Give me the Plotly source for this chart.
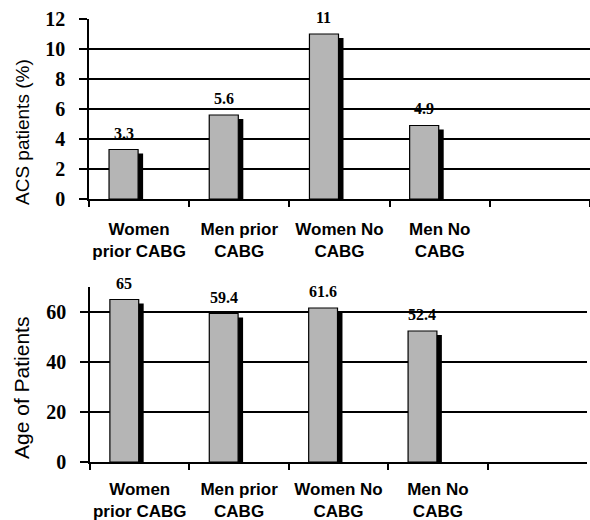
import plotly.graph_objects as go

categories = ["Women<br>prior CABG", "Men prior<br>CABG", "Women No<br>CABG", "Men No<br>CABG", " "]
acs_values = [3.3, 5.6, 11, 4.9]
age_values = [65, 59.4, 61.6, 52.4]
acs_labels = ["3.3", "5.6", "11", "4.9"]
age_labels = ["65", "59.4", "61.6", "52.4"]

W, H = 590, 520
GRAY = "#b5b5b5"
BAR_OFF, BAR_W = -0.30, 0.29
SH_DX = 0.05
SH_DROP_PX = 4

fig = go.Figure()

panels = [
    dict(vals=acs_values, labels=acs_labels, xa="x", ya="y", rng=[0, 12], dtick=2, standoff=14,
         xdom=[89 / W, 1.0], ydom=[1 - 199 / H, 1 - 19 / H]),
    dict(vals=age_values, labels=age_labels, xa="x2", ya="y2", rng=[0, 70], dtick=20, standoff=11,
         xdom=[90 / W, 587 / W], ydom=[1 - 462 / H, 1 - 287 / H]),
]

for p in panels:
    cats = categories[:len(p["vals"])]
    plot_h = (p["ydom"][1] - p["ydom"][0]) * H
    drop = SH_DROP_PX * (p["rng"][1] - p["rng"][0]) / plot_h
    fig.add_trace(go.Bar(x=cats, y=[v - drop for v in p["vals"]], xaxis=p["xa"], yaxis=p["ya"],
                         offset=BAR_OFF + SH_DX, width=BAR_W,
                         marker=dict(color="black", line=dict(width=0)),
                         showlegend=False, hoverinfo="skip"))
    fig.add_trace(go.Bar(x=cats, y=p["vals"], xaxis=p["xa"], yaxis=p["ya"],
                         offset=BAR_OFF, width=BAR_W,
                         marker=dict(color=GRAY, line=dict(color="black", width=1.2)),
                         showlegend=False))
    for i, (v, t) in enumerate(zip(p["vals"], p["labels"])):
        fig.add_annotation(x=i + BAR_OFF + BAR_W / 2, y=v, xref=p["xa"], yref=p["ya"],
                           text="<b>" + t + "</b>", showarrow=False, yanchor="bottom", yshift=6,
                           font=dict(family="Liberation Serif", size=16, color="black"))

axis_common_x = dict(type="category", categoryorder="array", categoryarray=categories,
                     range=[-0.5, 4.5], tickson="boundaries", ticks="outside", ticklen=6,
                     tickwidth=1.5, tickcolor="black", showline=True, linecolor="black",
                     linewidth=1.5, showgrid=False, zeroline=False, tickangle=0,
                     tickfont=dict(family="Liberation Sans", size=17, color="black", weight="bold"))

layout = dict(width=W, height=H, margin=dict(l=0, r=0, t=0, b=0, autoexpand=False),
              paper_bgcolor="white", plot_bgcolor="white", barmode="overlay")

for n, p in enumerate(panels):
    sx = "" if n == 0 else "2"
    layout["xaxis" + sx] = dict(axis_common_x, domain=p["xdom"], anchor="y" + sx,
                                ticklabelstandoff=p["standoff"])
    layout["yaxis" + sx] = dict(domain=p["ydom"], anchor="x" + sx, range=p["rng"], dtick=p["dtick"],
                                tick0=0, ticks="outside", ticklen=8, tickwidth=1.5, tickcolor="black",
                                showline=True, linecolor="black", linewidth=1.5,
                                showgrid=True, gridcolor="black", gridwidth=1.5, zeroline=False,
                                tickfont=dict(family="Liberation Serif", size=20, color="black", weight="bold"),
                                ticklabelstandoff=10)

fig.update_layout(**layout)

fig.add_annotation(x=22 / W, y=1 - 132 / H, xref="paper", yref="paper", text="ACS patients (%)",
                   textangle=-90, showarrow=False, xanchor="center", yanchor="middle",
                   font=dict(family="Liberation Sans", size=19, color="black"))
fig.add_annotation(x=21 / W, y=1 - 388 / H, xref="paper", yref="paper", text="Age of Patients",
                   textangle=-90, showarrow=False, xanchor="center", yanchor="middle",
                   font=dict(family="Liberation Sans", size=21, color="black"))

fig.write_html("out.html", config={"displayModeBar": False},
               post_script="document.body.style.margin='0px';document.body.style.overflow='hidden';")
